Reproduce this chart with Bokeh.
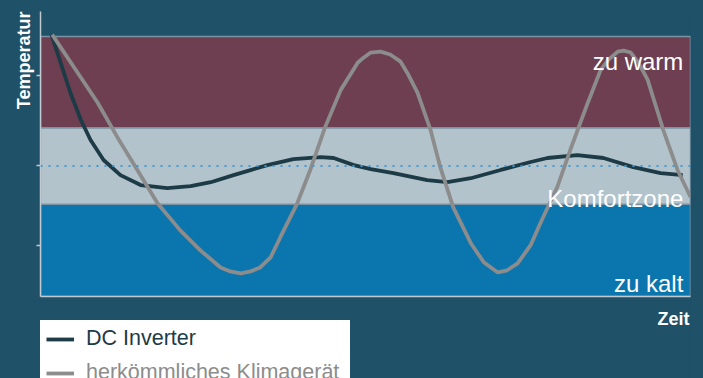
import math
from bokeh.plotting import figure
from bokeh.layouts import column
from bokeh.models import Range1d, FixedTicker, Label, Legend, LegendItem, Span, Title
from bokeh.embed import file_html
from bokeh.resources import INLINE

# ---- data ----
time_dc = [1.7, 3.1, 4.6, 6.2, 7.7, 9.7, 12.3, 15.4, 19.5, 23.1, 26.2, 29.7, 34.9, 38.9,
           43.1, 45.1, 48.2, 50.8, 54.3, 59.5, 62.6, 66.2, 70.8, 75.4, 78.0, 82.6, 86.6,
           91.2, 95.4, 98.8]
temp_dc = [91.9, 82.0, 71.5, 62.0, 54.9, 47.9, 42.6, 39.1, 38.0, 38.7, 40.1, 42.6, 46.1, 48.2,
           48.9, 48.6, 46.1, 44.7, 43.3, 40.8, 40.1, 41.5, 44.4, 47.2, 48.6, 49.6, 48.6,
           45.4, 43.3, 42.6]

time_conv = [1.8, 5.1, 8.8, 11.8, 14.9, 18.0, 21.5, 24.6, 27.7, 29.2, 30.8, 32.3, 33.8, 35.4,
             36.9, 39.5, 41.5, 43.8, 46.2, 48.8, 49.7, 50.8, 52.3, 53.8, 55.4, 56.6, 58.0,
             60.0, 61.5, 63.5, 66.2, 68.2, 70.3, 71.8, 73.4, 75.4, 76.9, 79.5, 81.5, 84.2,
             86.2, 87.4, 88.8, 89.7, 90.8, 92.0, 93.4, 95.8, 98.0, 100.0]
temp_conv = [91.9, 80.6, 68.0, 56.0, 44.4, 32.7, 23.2, 16.2, 10.2, 8.8, 8.1, 8.8, 10.2, 13.7,
             20.8, 32.7, 44.4, 59.5, 72.5, 82.0, 83.8, 85.6, 85.9, 84.9, 82.4, 77.8, 71.5,
             58.5, 45.4, 31.3, 18.7, 12.0, 8.5, 9.2, 11.6, 18.0, 25.7, 38.4, 51.4, 68.0,
             79.6, 83.1, 85.9, 86.3, 85.6, 82.0, 76.1, 58.5, 44.4, 34.9]

series_names = ["DC Inverter", "herkömmliches Klimagerät"]
band_names = ["zu kalt", "Komfortzone", "zu warm"]
band_bottom = [0.0, 32.4, 59.2]
band_top = [32.4, 59.2, 91.2]
comfort_target = 45.8
y_ticks = [18.0, 45.8, 77.5]
time_range = (0, 100)
temp_range = (0, 100)
x_title = "Zeit"
y_title = "Temperatur"

# ---- styles ----
BG = "#1f5168"
band_colors = ["#0b76ae", "#b2c3cc", "#6d3f50"]
dc_color = "#1d3b46"
conv_color = "#8c8c8c"
axis_color = "#c0cad0"
FONT = "Liberation Sans"

p = figure(width=703, height=300, output_backend="svg", toolbar_location=None,
           x_range=Range1d(*time_range), y_range=Range1d(*temp_range),
           min_border_left=40, min_border_right=13, min_border_top=11, min_border_bottom=4,
           styles={"background-color": BG})
p.background_fill_color = BG
p.border_fill_color = BG
p.outline_line_color = None
p.grid.visible = False

# axes
p.yaxis.ticker = FixedTicker(ticks=y_ticks)
p.yaxis.major_label_overrides = {t: "" for t in y_ticks}
p.yaxis.major_label_standoff = 0
p.yaxis.major_tick_out = 4
p.yaxis.major_tick_in = 0
p.yaxis.minor_tick_line_color = None
p.yaxis.major_tick_line_color = axis_color
p.yaxis.major_tick_line_width = 1.5
p.yaxis.axis_line_color = axis_color
p.yaxis.axis_line_width = 1.5
p.xaxis.ticker = FixedTicker(ticks=[])
p.xaxis.major_label_standoff = 0
p.xaxis.major_tick_out = 0
p.xaxis.minor_tick_line_color = None
p.xaxis.major_tick_line_color = None
p.xaxis.axis_line_color = axis_color
p.xaxis.axis_line_width = 1.5

p.add_layout(Title(text=y_title, align="right", standoff=5, text_color="white",
                   text_font=FONT, text_font_size="18px", text_font_style="bold"), "left")

# bands
p.quad(left=time_range[0], right=time_range[1], bottom=band_bottom, top=band_top,
       fill_color=band_colors, line_color="#7c93a3", line_width=1.5)

# comfort target dotted line
p.add_layout(Span(location=comfort_target, dimension="width", line_color="#3a9bd8",
                  line_dash="2 6", line_width=2))

# series
p.line(time_dc, temp_dc, line_color=dc_color, line_width=3.8)
p.line(time_conv, temp_conv, line_color=conv_color, line_width=3.8)

# band labels
label_pos = {"zu warm": 82.4, "Komfortzone": 34.5, "zu kalt": 4.6}
for name in band_names:
    p.add_layout(Label(x=98.9, y=label_pos[name], text=name, text_align="right",
                       text_baseline="alphabetic", text_color="white",
                       text_font=FONT, text_font_size="24px"))

# ---- lower strip: x title and legend ----
q = figure(width=703, height=78, output_backend="svg", toolbar_location=None,
           x_range=Range1d(*time_range), y_range=Range1d(-200, -100),
           x_axis_type=None, y_axis_type=None,
           min_border_left=0, min_border_right=0, min_border_top=0, min_border_bottom=0,
           styles={"background-color": BG})
q.background_fill_color = BG
q.border_fill_color = BG
q.outline_line_color = None
q.grid.visible = False

# legend sample renderers (same series, outside the visible range of this strip)
r_dc = q.line(time_dc, temp_dc, line_color=dc_color, line_width=3.8)
r_conv = q.line(time_conv, temp_conv, line_color=conv_color, line_width=3.8)

q.add_layout(Label(x=649, y=60, x_units="screen", y_units="screen", text=x_title,
                   text_align="right", text_baseline="alphabetic", text_color="white",
                   text_font=FONT, text_font_size="18px", text_font_style="bold"))

# white border stroke acts as padding around each legend box
common = dict(background_fill_color="white", background_fill_alpha=1.0,
              border_line_color="white", border_line_width=6, border_line_join="miter",
              padding=0, margin=0, spacing=0,
              glyph_width=28, glyph_height=22, label_height=22, label_width=258,
              label_standoff=12, label_text_font=FONT, label_text_font_size="21.5px")
leg1 = Legend(items=[LegendItem(label=series_names[0], renderers=[r_dc])],
              location=(0, 21), label_text_color=dc_color, **common)
leg2 = Legend(items=[LegendItem(label=series_names[1], renderers=[r_conv])],
              location=(0, -13), label_text_color=conv_color, **common)
q.add_layout(leg1, "center")
q.add_layout(leg2, "center")

layout = column(p, q, spacing=0, styles={"background-color": BG})
open("out.html", "w").write(file_html(layout, INLINE))
